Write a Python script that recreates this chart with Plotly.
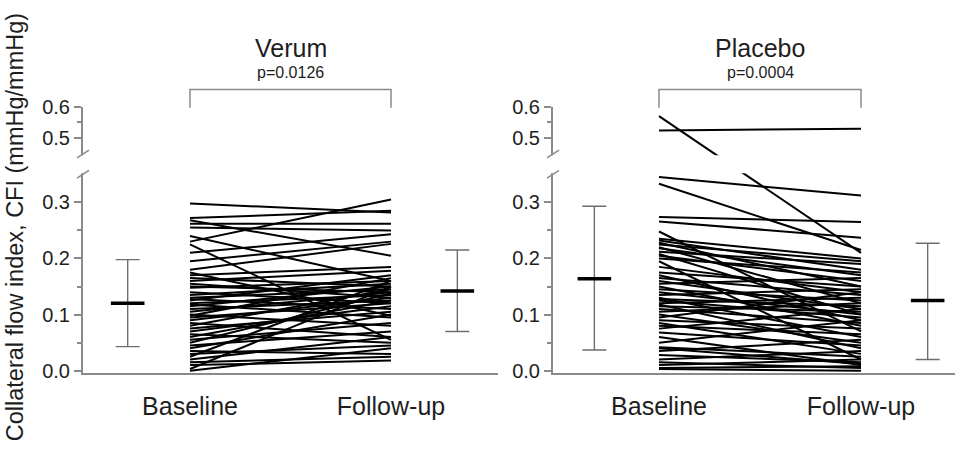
import plotly.graph_objects as go

# ---------------- data ----------------
categories = ["Baseline", "Follow-up"]
groups = ["Verum", "Placebo"]
p_values = ["p=0.0126", "p=0.0004"]

verum_baseline = [0.298, 0.230, 0.272, 0.262, 0.255, 0.268, 0.210, 0.195, 0.240, 0.180,
                  0.175, 0.170, 0.165, 0.160, 0.155, 0.150, 0.148, 0.140, 0.135, 0.130,
                  0.128, 0.125, 0.120, 0.118, 0.115, 0.110, 0.105, 0.100, 0.098, 0.095,
                  0.090, 0.085, 0.080, 0.075, 0.070, 0.065, 0.060, 0.055, 0.050, 0.045,
                  0.040, 0.035, 0.030, 0.025, 0.020, 0.015, 0.010, 0.003, 0.000, 0.225]
verum_followup = [0.282, 0.305, 0.285, 0.262, 0.250, 0.205, 0.243, 0.230, 0.160, 0.226,
                  0.098, 0.185, 0.150, 0.178, 0.130, 0.140, 0.160, 0.120, 0.155, 0.145,
                  0.110, 0.170, 0.135, 0.095, 0.150, 0.125, 0.140, 0.080, 0.165, 0.120,
                  0.130, 0.060, 0.145, 0.105, 0.115, 0.050, 0.125, 0.085, 0.138, 0.070,
                  0.100, 0.030, 0.045, 0.160, 0.060, 0.025, 0.018, 0.150, 0.040, 0.055]

placebo_baseline = [0.570, 0.525, 0.345, 0.333, 0.274, 0.266, 0.248, 0.235, 0.232, 0.228,
                    0.225, 0.220, 0.218, 0.212, 0.208, 0.205, 0.200, 0.195, 0.185, 0.175,
                    0.170, 0.165, 0.160, 0.155, 0.150, 0.145, 0.140, 0.135, 0.130, 0.128,
                    0.125, 0.120, 0.118, 0.115, 0.110, 0.105, 0.100, 0.095, 0.090, 0.085,
                    0.080, 0.075, 0.068, 0.060, 0.050, 0.042, 0.035, 0.028, 0.020, 0.015,
                    0.010, 0.005, 0.040, 0.003]
placebo_followup = [0.210, 0.530, 0.312, 0.215, 0.265, 0.237, 0.070, 0.200, 0.180, 0.150,
                    0.195, 0.120, 0.170, 0.190, 0.100, 0.160, 0.175, 0.020, 0.140, 0.150,
                    0.090, 0.135, 0.110, 0.165, 0.080, 0.125, 0.100, 0.145, 0.060, 0.115,
                    0.095, 0.130, 0.040, 0.105, 0.085, 0.120, 0.050, 0.140, 0.075, 0.030,
                    0.065, 0.110, 0.045, 0.010, 0.090, 0.025, 0.055, 0.015, 0.035, 0.005,
                    0.020, 0.008, 0.012, 0.000]

# mean and whisker (SD) ends per group: [baseline, follow-up]
verum_mean = [0.120, 0.142]
verum_low = [0.043, 0.070]
verum_high = [0.198, 0.215]
placebo_mean = [0.164, 0.125]
placebo_low = [0.037, 0.020]
placebo_high = [0.293, 0.227]

y_tick_values = [0.0, 0.1, 0.2, 0.3, 0.5, 0.6]
y_tick_labels = ["0.0", "0.1", "0.2", "0.3", "0.5", "0.6"]
y_minor_values = [0.05, 0.15, 0.25, 0.55]

# ---------------- broken-axis transform ----------------
LOW_TOP = 0.35      # top of lower segment
HIGH_BOTTOM = 0.45  # bottom of upper segment
GAP = 0.036         # display units of the gap
K = 0.5625          # compression of the upper segment


def disp(v):
    if v <= LOW_TOP:
        return v
    if v >= HIGH_BOTTOM:
        return LOW_TOP + GAP + (v - HIGH_BOTTOM) * K
    return LOW_TOP + (v - LOW_TOP) / (HIGH_BOTTOM - LOW_TOP) * GAP


Y_TOP = disp(0.6)
Y_BOTTOM = -0.004

# ---------------- geometry ----------------
W, H = 955, 462
PX_PER_UNIT = 586.7
ZERO_PX = 376
px_top = ZERO_PX - Y_TOP * PX_PER_UNIT
px_bot = ZERO_PX - Y_BOTTOM * PX_PER_UNIT
y_domain = [(H - px_bot) / H, (H - px_top) / H]

panels = [
    dict(ax="x", ay="y", dom=(83, 498), base=190, follow=391,
         b=verum_baseline, f=verum_followup, mean=verum_mean, lo=verum_low, hi=verum_high,
         eb_x=(-0.31, 1.33)),
    dict(ax="x2", ay="y2", dom=(553, 955), base=659, follow=861,
         b=placebo_baseline, f=placebo_followup, mean=placebo_mean, lo=placebo_low, hi=placebo_high,
         eb_x=(-0.32, 1.33)),
]

FONT = "Liberation Sans, Arial, Helvetica, sans-serif"
TXT = "#1e1e1e"
AXC = "#8a8a8a"

fig = go.Figure()
shapes = []
annotations = []

for i, p in enumerate(panels):
    unit = p["follow"] - p["base"]
    xr = [(p["dom"][0] - p["base"]) / unit, (p["dom"][1] - p["base"]) / unit]
    xs, ys = [], []
    for b, f in zip(p["b"], p["f"]):
        xs += [0, 1, None]
        ys += [disp(b), disp(f), None]
    fig.add_trace(go.Scatter(x=xs, y=ys, mode="lines", xaxis=p["ax"], yaxis=p["ay"],
                             line=dict(color="black", width=2.0), hoverinfo="skip"))
    m = [disp(v) for v in p["mean"]]
    fig.add_trace(go.Scatter(
        x=list(p["eb_x"]), y=m, mode="markers", xaxis=p["ax"], yaxis=p["ay"],
        marker=dict(symbol="line-ew", size=24, line=dict(color="black", width=3.5), color="black"),
        error_y=dict(type="data", symmetric=False,
                     array=[h - mm for h, mm in zip(p["hi"], p["mean"])],
                     arrayminus=[mm - l for l, mm in zip(p["lo"], p["mean"])],
                     color="#6e6e6e", thickness=1.4, width=12)))

    xkey = "xaxis" if i == 0 else "xaxis2"
    ykey = "yaxis" if i == 0 else "yaxis2"
    fig.layout[xkey] = dict(domain=[p["dom"][0] / W, p["dom"][1] / W], range=xr,
                            anchor=p["ay"], showline=True, linecolor=AXC, linewidth=2,
                            showgrid=False, zeroline=False, tickmode="array", tickvals=[0, 1],
                            ticktext=categories, ticks="outside", ticklen=10,
                            tickcolor="rgba(0,0,0,0)", tickfont=dict(size=25, color=TXT, family=FONT))
    fig.layout[ykey] = dict(domain=y_domain, range=[Y_BOTTOM, Y_TOP], anchor=p["ax"],
                            showline=True, linecolor=AXC, linewidth=2, showgrid=False,
                            zeroline=False, tickmode="array",
                            tickvals=[disp(v) for v in y_tick_values], ticktext=y_tick_labels,
                            ticks="outside", ticklen=7, tickwidth=1.5, tickcolor=AXC,
                            tickfont=dict(size=20, color=TXT, family=FONT),
                            minor=dict(tickvals=[disp(v) for v in y_minor_values], ticks="outside",
                                       ticklen=4, tickwidth=1.5, tickcolor=AXC))

    xref = p["ax"]
    yref = p["ay"]
    # axis break: blank band and slashes
    shapes.append(dict(type="rect", xref=xref + " domain", yref=yref, x0=-0.03, x1=1.0,
                       y0=LOW_TOP + 0.002, y1=LOW_TOP + GAP - 0.002,
                       fillcolor="white", line=dict(width=0), layer="above"))
    dom_w = p["dom"][1] - p["dom"][0]
    for yb in (LOW_TOP, LOW_TOP + GAP):
        shapes.append(dict(type="line", xref=xref + " domain", yref=yref,
                           x0=-6 / dom_w, x1=6 / dom_w,
                           y0=yb - 4 / PX_PER_UNIT, y1=yb + 4 / PX_PER_UNIT,
                           line=dict(color=AXC, width=1.5), layer="above"))
    # significance bracket
    y_br = (H - 82) / H
    y_br_end = (H - 101) / H
    shapes.append(dict(type="path", xref=xref, yref="paper",
                       path=f"M 0,{y_br_end} L 0,{y_br} L 1,{y_br} L 1,{y_br_end}",
                       line=dict(color=AXC, width=1.5)))
    annotations.append(dict(x=0.5, y=(H - 39) / H, xref=xref, yref="paper", text=groups[i],
                            showarrow=False, font=dict(size=25, color=TXT, family=FONT),
                            xanchor="center", yanchor="middle"))
    annotations.append(dict(x=0.5, y=(H - 64) / H, xref=xref, yref="paper", text=p_values[i],
                            showarrow=False, font=dict(size=16, color=TXT, family=FONT),
                            xanchor="center", yanchor="middle"))

annotations.append(dict(x=15 / W, y=(H - 226) / H, xref="paper", yref="paper",
                        text="Collateral flow index, CFI (mmHg/mmHg)", textangle=-90,
                        showarrow=False, font=dict(size=23.5, color=TXT, family=FONT),
                        xanchor="center", yanchor="middle"))

fig.update_layout(width=W, height=H, margin=dict(l=0, r=0, t=0, b=0),
                  paper_bgcolor="white", plot_bgcolor="white", showlegend=False,
                  shapes=shapes, annotations=annotations, font=dict(family=FONT, color=TXT))

fig.write_html("out.html")
